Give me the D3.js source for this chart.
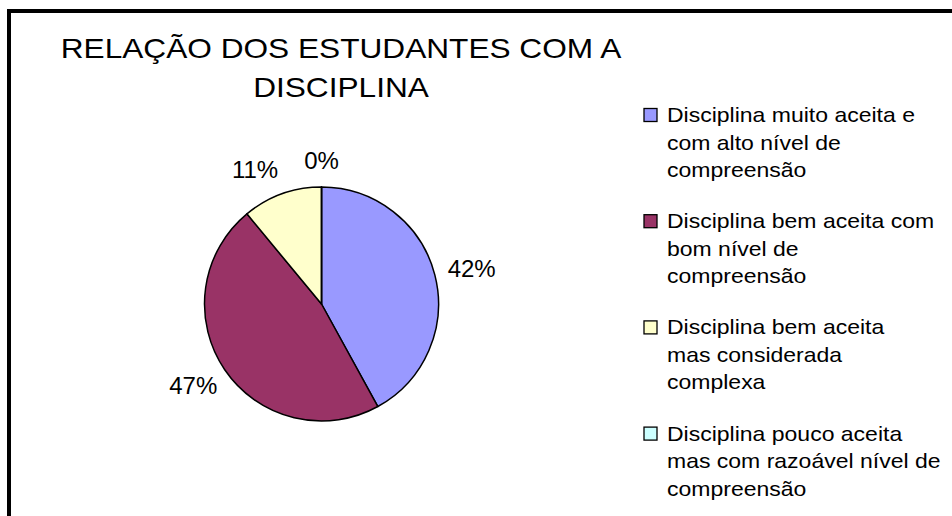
<!DOCTYPE html>
<html>
<head>
<meta charset="utf-8">
<script src="https://cdn.jsdelivr.net/npm/d3@7"></script>
<style>
  html, body { margin: 0; padding: 0; background: #fff; }
  svg { display: block; }
  text { font-family: "Liberation Sans", Arial, sans-serif; fill: #000; }
</style>
</head>
<body>
<svg id="chart" width="952" height="516"></svg>
<script>
// ---- data ----
const titleLines = ["RELAÇÃO DOS ESTUDANTES COM A", "DISCIPLINA"];
const categories = [
  "Disciplina muito aceita e com alto nível de compreensão",
  "Disciplina bem aceita com bom nível de compreensão",
  "Disciplina bem aceita mas considerada complexa",
  "Disciplina pouco aceita mas com razoável nível de compreensão"
];
const legendLines = [
  ["Disciplina muito aceita e", "com alto nível de", "compreensão"],
  ["Disciplina bem aceita com", "bom nível de", "compreensão"],
  ["Disciplina bem aceita", "mas considerada", "complexa"],
  ["Disciplina pouco aceita", "mas com razoável nível de", "compreensão"]
];
const values = [42, 47, 11, 0];
const valueLabels = ["42%", "47%", "11%", "0%"];
const colors = ["#9999FF", "#993366", "#FFFFCC", "#CCFFFF"];

// ---- drawing ----
const svg = d3.select("#chart");
const W = 952, H = 516;

// frame (only top and left edges visible)
svg.append("rect")
  .attr("x", 9).attr("y", 11)
  .attr("width", W + 20).attr("height", H + 20)
  .attr("fill", "#fff").attr("stroke", "#000").attr("stroke-width", 4);

// title
const stretch = 1.13;
const titleG = svg.append("g");
[58, 97].forEach((y, i) => {
  titleG.append("text")
    .attr("transform", `translate(341,${y}) scale(${stretch},1)`)
    .attr("text-anchor", "middle")
    .attr("font-size", 28)
    .text(titleLines[i]);
});

// pie
const cx = 321.5, cy = 304, R = 117;
const pie = d3.pie().sort(null).value(d => d)(values);
const arc = d3.arc().innerRadius(0).outerRadius(R);
const g = svg.append("g").attr("transform", `translate(${cx},${cy})`);
g.selectAll("path.slice").data(pie).join("path")
  .attr("class", "slice")
  .attr("d", arc)
  .attr("fill", (d, i) => colors[i])
  .attr("stroke", "#000")
  .attr("stroke-width", 1.5)
  .attr("stroke-linejoin", "round");

// labels
const lblR = R + 14;
const labelFont = 24;
const labels = pie.map((d, i) => {
  const a = (d.startAngle + d.endAngle) / 2;
  const s = Math.sin(a), c = Math.cos(a);
  const px = lblR * s, py = -lblR * c;
  const t = g.append("text")
    .attr("font-size", labelFont)
    .attr("text-anchor", "middle")
    .text(valueLabels[i]);
  const bb = t.node().getBBox();
  const hw = bb.width / 2;
  return { t, x: px + s * hw, y: py - c * 13, hw, hh: 9 };
});
// push apart neighbouring labels that sit too close
const minGap = 26;
for (let i = 0; i < labels.length; i++) {
  for (let j = 0; j < labels.length; j++) {
    if (i === j) continue;
    const A = labels[i], B = labels[j];
    if (A.x < B.x && Math.abs(A.y - B.y) < 2 * A.hh) {
      const gap = (B.x - B.hw) - (A.x + A.hw);
      if (gap < minGap) A.x -= (minGap - gap);
    }
  }
}
labels.forEach(L => L.t.attr("x", L.x).attr("y", L.y + L.hh));

// legend
const legX = 644, legY0 = 122, lineH = 27.5, itemGap = 106.2;
const legFont = 20, legStretch = 1.15;
const leg = svg.append("g");
categories.forEach((cat, i) => {
  const y0 = legY0 + i * itemGap;
  const item = leg.append("g").attr("class", "legend-item").attr("data-category", cat);
  item.append("rect")
    .attr("x", legX).attr("y", y0 - 13.5)
    .attr("width", 13).attr("height", 13)
    .attr("fill", colors[i]).attr("stroke", "#000").attr("stroke-width", 1.3);
  legendLines[i].forEach((ln, j) => {
    item.append("text")
      .attr("transform", `translate(${legX + 23},${y0 + j * lineH}) scale(${legStretch},1)`)
      .attr("font-size", legFont)
      .text(ln);
  });
});
</script>
</body>
</html>
